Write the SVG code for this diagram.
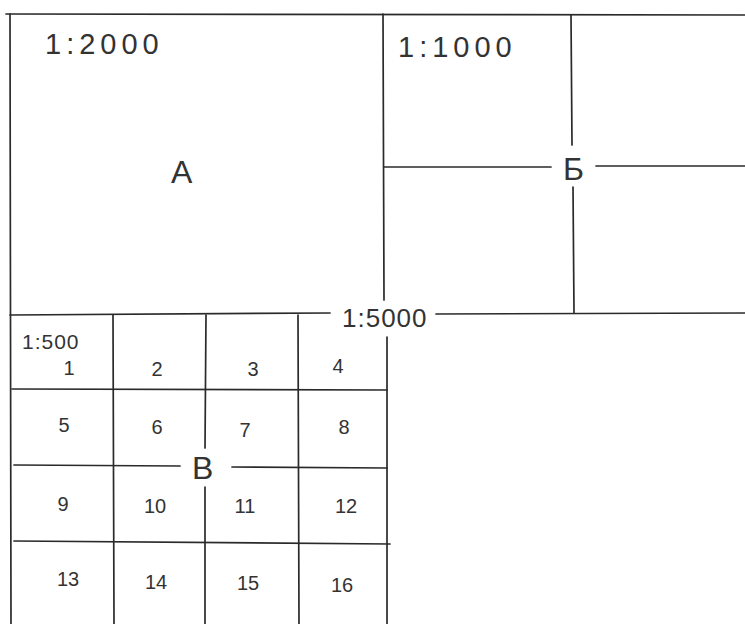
<svg xmlns="http://www.w3.org/2000/svg" width="745" height="624" viewBox="0 0 745 624">
<style>
.ln{stroke:#2a2a2a;stroke-width:1.7;fill:none;stroke-linecap:round}
text{font-family:"Liberation Sans","DejaVu Sans",sans-serif;fill:#333;}
.sc{font-size:29px;letter-spacing:5px}
.big{font-size:32px}
.n{font-size:20px;text-anchor:middle}
</style>
<rect width="745" height="624" fill="#fff"/>
<g id="connectors">
<path class="ln" d="M6 14 L745 15"/>
<path class="ln" d="M10 14 L11 624"/>
<path class="ln" d="M383 14 L384 300"/>
<path class="ln" d="M10 315 L330 313"/>
<path class="ln" d="M436 314 L745 313"/>
<path class="ln" d="M571 15 L572 145"/>
<path class="ln" d="M573 187 L574 313"/>
<path class="ln" d="M384 167 L551 167"/>
<path class="ln" d="M596 166 L745 166"/>
<path class="ln" d="M387 337 L387 624"/>
<path class="ln" d="M113 315 L114 624"/>
<path class="ln" d="M206 315 L205 448"/>
<path class="ln" d="M205 487 L205 624"/>
<path class="ln" d="M298 315 L299 624"/>
<path class="ln" d="M12 389 L387 390"/>
<path class="ln" d="M14 465 L180 466"/>
<path class="ln" d="M232 467 L387 468"/>
<path class="ln" d="M14 541 L390 544"/>
</g>
<g id="sheet-A">
<text class="sc" x="45" y="54">1:2000</text>
<text class="big" x="171" y="183">A</text>
</g>
<g id="sheet-B">
<text class="sc" x="398" y="57">1:1000</text>
<text class="big" x="563" y="180">Б</text>
</g>
<g id="sheet-5000">
<text x="342" y="327" style="font-size:26px;letter-spacing:1px">1:5000</text>
</g>
<g id="sheet-V">
<text x="22" y="349" style="font-size:21px;letter-spacing:1px">1:500</text>
<text class="big" x="192" y="479">B</text>
</g>
<g id="cells">
<text class="n" x="69" y="375">1</text>
<text class="n" x="157" y="376">2</text>
<text class="n" x="253" y="376">3</text>
<text class="n" x="338" y="373">4</text>
<text class="n" x="64" y="432">5</text>
<text class="n" x="157" y="434">6</text>
<text class="n" x="245" y="437">7</text>
<text class="n" x="344" y="434">8</text>
<text class="n" x="63" y="511">9</text>
<text class="n" x="155" y="513">10</text>
<text class="n" x="245" y="513">11</text>
<text class="n" x="346" y="513">12</text>
<text class="n" x="68" y="586">13</text>
<text class="n" x="156" y="589">14</text>
<text class="n" x="248" y="590">15</text>
<text class="n" x="342" y="592">16</text>
</g>
</svg>
